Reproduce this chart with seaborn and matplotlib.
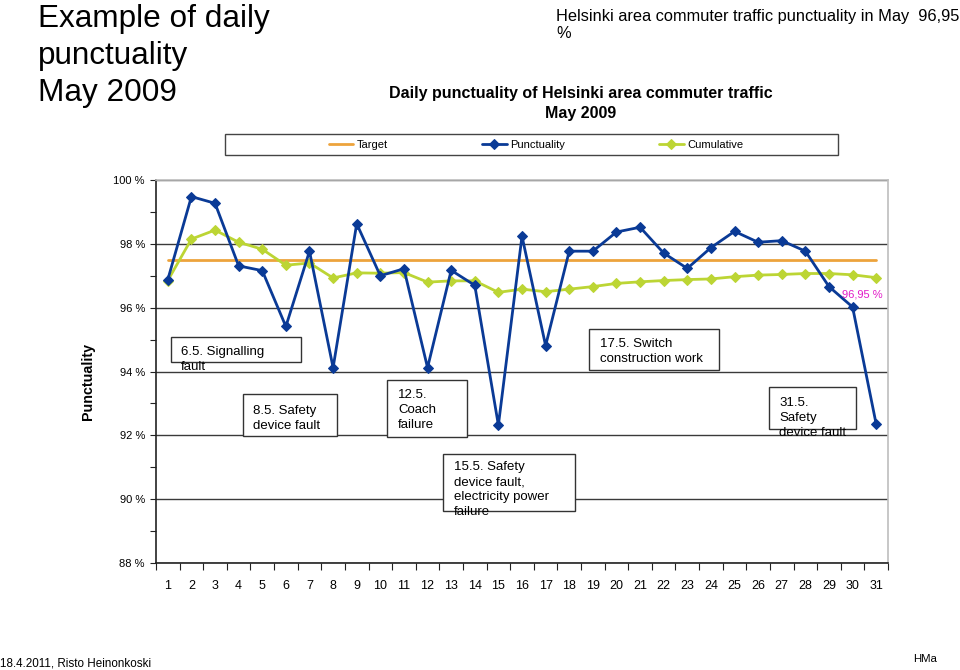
import matplotlib
matplotlib.use("Agg")
import matplotlib.pyplot as plt
import seaborn as sns
import numpy as np
from matplotlib.patches import Rectangle
from matplotlib.ticker import FixedLocator

# ---------------- data ----------------
days = list(range(1, 32))
punctuality = [96.88, 99.48, 99.27, 97.31, 97.16, 95.41, 97.77, 94.12, 98.63, 97.00,
               97.22, 94.12, 97.17, 96.70, 92.32, 98.24, 94.81, 97.77, 97.77, 98.37,
               98.52, 97.71, 97.23, 97.88, 98.39, 98.05, 98.10, 97.77, 96.66, 96.02,
               92.35]
cumulative = [96.85, 98.15, 98.43, 98.05, 97.83, 97.33, 97.40, 96.93, 97.09, 97.08,
              97.10, 96.80, 96.84, 96.84, 96.48, 96.58, 96.50, 96.58, 96.66, 96.76,
              96.81, 96.85, 96.88, 96.90, 96.97, 97.02, 97.04, 97.07, 97.07, 97.03,
              96.94]
target_value = 97.5
target = [target_value] * len(days)

y_ticks = [88, 90, 92, 94, 96, 98, 100]
y_tick_labels = ["88 %", "90 %", "92 %", "94 %", "96 %", "98 %", "100 %"]
x_tick_labels = [str(d) for d in days]

series_names = ["Target", "Punctuality", "Cumulative"]
month_value_label = "96,95 %"

notes = [
    "6.5. Signalling\nfault",
    "8.5. Safety\ndevice fault",
    "12.5.\nCoach\nfailure",
    "15.5. Safety\ndevice fault,\nelectricity power\nfailure",
    "17.5. Switch\nconstruction work",
    "31.5.\nSafety\ndevice fault",
]

# ---------------- style ----------------
sns.set_theme(style="white")
plt.rcParams["font.family"] = ["Liberation Sans", "DejaVu Sans"]
plt.rcParams["text.color"] = "black"
plt.rcParams["axes.labelcolor"] = "black"
plt.rcParams["xtick.color"] = "black"
plt.rcParams["ytick.color"] = "black"

BLUE = "#0A3A96"
GREEN = "#BCD534"
ORANGE = "#EDA33C"
MAGENTA = "#E21BC8"

W, H = 960, 670
fig = plt.figure(figsize=(9.6, 6.7), dpi=100)
fig.patch.set_facecolor("white")


def fx(px):
    return px / W


def fy(py):
    return 1 - py / H


# plot area: x 156..888, y 180..563 (pixels)
ax = fig.add_axes([fx(156), fy(563), (888 - 156) / W, (563 - 180) / H])
ax.set_facecolor("white")

sns.lineplot(x=days, y=target, ax=ax, color=ORANGE, linewidth=2.0,
             label=series_names[0], zorder=2)
sns.lineplot(x=days, y=cumulative, ax=ax, color=GREEN, linewidth=2.0,
             marker="D", markersize=5, markeredgecolor=GREEN,
             label=series_names[2], zorder=3)
sns.lineplot(x=days, y=punctuality, ax=ax, color=BLUE, linewidth=2.0,
             marker="D", markersize=5.5, markeredgecolor=BLUE,
             label=series_names[1], zorder=4)

handles, labels = ax.get_legend_handles_labels()
order = [labels.index(n) for n in series_names]
if ax.get_legend() is not None:
    ax.get_legend().remove()

ax.set_xlim(0.5, 31.5)
ax.set_ylim(88, 100)

ax.set_xticks(days)
ax.set_xticklabels(x_tick_labels, fontsize=9)
ax.xaxis.set_minor_locator(FixedLocator(np.arange(0.5, 32, 1)))
ax.tick_params(axis="x", which="major", length=0, pad=12, labelcolor="black")
ax.tick_params(axis="x", which="minor", length=5, width=0.8, direction="out",
               color="#222222", bottom=True)

ax.set_yticks(y_ticks)
ax.set_yticklabels(y_tick_labels, fontsize=8)
ax.yaxis.set_minor_locator(FixedLocator(np.arange(89, 100, 2)))
ax.tick_params(axis="y", which="both", length=4, width=0.8, direction="out",
               color="#222222", left=True, pad=4, labelcolor="black")

ax.grid(axis="y", which="major", color="#3a3a3a", linewidth=1.0)
ax.grid(axis="x", visible=False)
ax.set_axisbelow(True)

for side in ["top", "right"]:
    ax.spines[side].set_color("#BEBEBE")
    ax.spines[side].set_linewidth(1.2)
for side in ["left", "bottom"]:
    ax.spines[side].set_color("#222222")
    ax.spines[side].set_linewidth(1.2)

ax.set_xlabel("")
ax.set_ylabel("")

ax.text(30.4, 96.41, month_value_label, color=MAGENTA, fontsize=8,
        ha="center", va="center", zorder=6)

# y label
fig.text(fx(88), fy(381), "Punctuality", rotation=90, fontsize=10.3,
         fontweight="bold", ha="center", va="center")

# ---------------- titles ----------------
fig.text(fx(38), fy(4), "Example of daily\npunctuality\nMay 2009", fontsize=22.7,
         ha="left", va="top", linespacing=1.31)
fig.text(fx(556), fy(9), "Helsinki area commuter traffic punctuality in May  96,95\n%",
         fontsize=11.8, ha="left", va="top", linespacing=1.2)
fig.text(fx(581), fy(86), "Daily punctuality of Helsinki area commuter traffic\nMay 2009",
         fontsize=11.5, fontweight="bold", ha="center", va="top",
         linespacing=1.42, multialignment="center")

# ---------------- legend ----------------
fig.add_artist(Rectangle((fx(225), fy(155)), (838 - 225) / W, (155 - 134) / H,
                         transform=fig.transFigure, facecolor="white",
                         edgecolor="#444444", linewidth=1.0, zorder=1))
leg = fig.legend([handles[i] for i in order], [labels[i] for i in order],
                 loc="center", bbox_to_anchor=(fx(536), fy(144.5)), ncol=3,
                 frameon=False, fontsize=8, columnspacing=8.5,
                 handlelength=2.2, handletextpad=0.3)
leg.set_zorder(2)

# ---------------- annotation boxes ----------------
# (box left, top, right, bottom, text x, text top) in pixels
note_layout = [
    (171, 337, 301, 362, 181, 345.5),
    (243, 394, 337, 436, 253, 405),
    (387, 380, 467, 437, 398, 389),
    (443, 454, 575, 511, 454, 461),
    (589, 329, 719, 370, 600, 338),
    (769, 387, 856, 429, 779, 396.5),
]
for txt, (l, t, r, b, tx, ty) in zip(notes, note_layout):
    fig.add_artist(Rectangle((fx(l), fy(b)), (r - l) / W, (b - t) / H,
                             transform=fig.transFigure, facecolor="white",
                             edgecolor="#333333", linewidth=1.0, zorder=5))
    fig.text(fx(tx), fy(ty), txt, fontsize=9.5, ha="left", va="top",
             linespacing=1.35, zorder=6)

# ---------------- footer ----------------
fig.text(fx(0), fy(667), "18.4.2011, Risto Heinonkoski", fontsize=8.4,
         ha="left", va="baseline")
fig.text(fx(913), fy(661.5), "HMa", fontsize=8.2, ha="left", va="baseline")

fig.savefig("out.png", dpi=100, facecolor="white")
